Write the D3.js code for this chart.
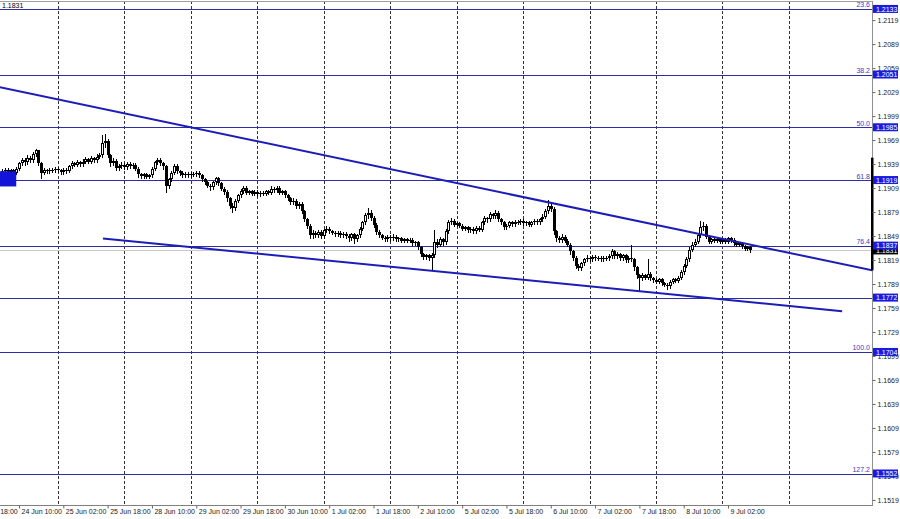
<!DOCTYPE html>
<html><head><meta charset="utf-8">
<script src="https://cdn.jsdelivr.net/npm/d3@7"></script>
<style>
body{margin:0;background:#fff}
svg{display:block}
text{font-family:"Liberation Sans",Arial,sans-serif}
</style>
</head><body>
<svg id="chart" width="900" height="519"></svg>
<script>
// ---------- DATA ----------
const firstOpen = 1.1928;
const closes = [
1.1930,1.1932,1.1929,1.1931,1.1928,1.1933,1.1940,1.1944,1.1941,1.1947,
1.1944,1.1952,1.1956,1.1940,1.1928,1.1931,1.1930,1.1932,1.1931,1.1933,
1.1931,1.1929,1.1932,1.1930,1.1936,1.1940,1.1938,1.1941,1.1939,1.1942,
1.1945,1.1942,1.1946,1.1944,1.1948,1.1950,1.1965,1.1968,1.1950,1.1940,
1.1943,1.1934,1.1936,1.1938,1.1935,1.1939,1.1936,1.1938,1.1933,1.1926,
1.1924,1.1926,1.1923,1.1925,1.1933,1.1941,1.1944,1.1940,1.1936,1.1912,
1.1920,1.1928,1.1937,1.1930,1.1928,1.1925,1.1927,1.1925,1.1927,1.1926,
1.1928,1.1925,1.1920,1.1916,1.1912,1.1910,1.1916,1.1921,1.1915,1.1908,
1.1904,1.1896,1.1887,1.1884,1.1893,1.1900,1.1905,1.1909,1.1903,1.1905,
1.1902,1.1904,1.1901,1.1903,1.1902,1.1905,1.1903,1.1908,1.1906,1.1909,
1.1903,1.1905,1.1900,1.1896,1.1891,1.1893,1.1886,1.1889,1.1880,1.1870,
1.1862,1.1850,1.1853,1.1850,1.1854,1.1849,1.1856,1.1858,1.1855,1.1853,
1.1851,1.1853,1.1850,1.1852,1.1849,1.1846,1.1851,1.1845,1.1850,1.1858,
1.1866,1.1875,1.1878,1.1872,1.1863,1.1854,1.1850,1.1847,1.1845,1.1848,
1.1846,1.1848,1.1845,1.1846,1.1843,1.1845,1.1843,1.1844,1.1840,1.1841,
1.1835,1.1826,1.1823,1.1825,1.1822,1.1825,1.1842,1.1838,1.1845,1.1841,
1.1855,1.1866,1.1868,1.1863,1.1865,1.1862,1.1858,1.1860,1.1856,1.1858,
1.1855,1.1859,1.1857,1.1866,1.1871,1.1870,1.1876,1.1874,1.1878,1.1870,
1.1866,1.1860,1.1862,1.1866,1.1864,1.1867,1.1866,1.1868,1.1865,1.1866,
1.1863,1.1866,1.1868,1.1866,1.1870,1.1873,1.1880,1.1887,1.1883,1.1855,
1.1846,1.1844,1.1848,1.1843,1.1838,1.1830,1.1822,1.1812,1.1809,1.1815,
1.1820,1.1822,1.1820,1.1823,1.1821,1.1822,1.1820,1.1822,1.1821,1.1824,
1.1830,1.1824,1.1826,1.1821,1.1825,1.1819,1.1822,1.1820,1.1810,1.1800,
1.1796,1.1800,1.1797,1.1802,1.1796,1.1794,1.1792,1.1795,1.1790,1.1788,
1.1786,1.1792,1.1795,1.1793,1.1797,1.1804,1.1812,1.1820,1.1832,1.1838,
1.1842,1.1850,1.1860,1.1862,1.1848,1.1842,1.1845,1.1843,1.1845,1.1842,
1.1844,1.1842,1.1846,1.1844,1.1840,1.1838,1.1840,1.1836,1.1833,1.1835,
1.1831];
const highs = [
1.1933,1.1934,1.1934,1.1933,1.1933,1.1935,1.1942,1.1947,1.1946,1.1950,
1.1949,1.1954,1.1958,1.1957,1.1942,1.1934,1.1933,1.1934,1.1934,1.1935,
1.1935,1.1933,1.1934,1.1934,1.1938,1.1943,1.1942,1.1944,1.1943,1.1945,
1.1948,1.1947,1.1949,1.1948,1.1951,1.1953,1.1975,1.1976,1.1970,1.1952,
1.1946,1.1945,1.1939,1.1941,1.1940,1.1941,1.1941,1.1940,1.1940,1.1935,
1.1928,1.1928,1.1928,1.1927,1.1935,1.1943,1.1947,1.1946,1.1942,1.1938,
1.1922,1.1930,1.1939,1.1939,1.1932,1.1930,1.1929,1.1929,1.1929,1.1929,
1.1930,1.1930,1.1927,1.1922,1.1918,1.1914,1.1918,1.1923,1.1923,1.1917,
1.1910,1.1906,1.1898,1.1890,1.1895,1.1902,1.1908,1.1912,1.1911,1.1907,
1.1907,1.1906,1.1906,1.1905,1.1905,1.1907,1.1907,1.1912,1.1910,1.1911,
1.1911,1.1907,1.1907,1.1902,1.1898,1.1896,1.1895,1.1891,1.1891,1.1882,
1.1872,1.1864,1.1856,1.1855,1.1856,1.1856,1.1858,1.1861,1.1860,1.1857,
1.1855,1.1855,1.1855,1.1854,1.1854,1.1851,1.1853,1.1853,1.1852,1.1860,
1.1868,1.1878,1.1884,1.1881,1.1874,1.1865,1.1856,1.1852,1.1849,1.1850,
1.1850,1.1852,1.1850,1.1848,1.1848,1.1847,1.1847,1.1846,1.1846,1.1843,
1.1843,1.1837,1.1828,1.1827,1.1827,1.1828,1.1857,1.1845,1.1848,1.1847,
1.1858,1.1869,1.1871,1.1870,1.1867,1.1867,1.1864,1.1862,1.1862,1.1860,
1.1860,1.1861,1.1861,1.1868,1.1874,1.1873,1.1879,1.1878,1.1882,1.1880,
1.1872,1.1868,1.1864,1.1868,1.1868,1.1869,1.1869,1.1870,1.1870,1.1868,
1.1868,1.1868,1.1870,1.1870,1.1872,1.1876,1.1883,1.1894,1.1890,1.1885,
1.1857,1.1849,1.1851,1.1850,1.1845,1.1840,1.1832,1.1824,1.1814,1.1817,
1.1822,1.1825,1.1824,1.1825,1.1825,1.1824,1.1824,1.1824,1.1824,1.1826,
1.1833,1.1832,1.1829,1.1828,1.1827,1.1827,1.1824,1.1838,1.1822,1.1812,
1.1802,1.1803,1.1802,1.1820,1.1804,1.1798,1.1796,1.1797,1.1797,1.1792,
1.1790,1.1794,1.1797,1.1797,1.1799,1.1806,1.1814,1.1823,1.1835,1.1841,
1.1845,1.1853,1.1868,1.1866,1.1864,1.1850,1.1847,1.1847,1.1847,1.1847,
1.1846,1.1846,1.1848,1.1848,1.1846,1.1842,1.1842,1.1842,1.1838,1.1837,
1.1837];
const lows = [
1.1926,1.1928,1.1927,1.1927,1.1926,1.1926,1.1931,1.1938,1.1938,1.1939,
1.1941,1.1942,1.1949,1.1938,1.1922,1.1926,1.1928,1.1928,1.1929,1.1929,
1.1929,1.1927,1.1927,1.1928,1.1929,1.1934,1.1936,1.1936,1.1937,1.1937,
1.1940,1.1940,1.1940,1.1941,1.1942,1.1946,1.1948,1.1960,1.1948,1.1937,
1.1938,1.1932,1.1931,1.1934,1.1933,1.1933,1.1934,1.1934,1.1931,1.1923,
1.1921,1.1922,1.1921,1.1921,1.1923,1.1931,1.1939,1.1938,1.1933,1.1904,
1.1909,1.1918,1.1926,1.1928,1.1925,1.1923,1.1923,1.1923,1.1923,1.1924,
1.1924,1.1923,1.1918,1.1914,1.1910,1.1907,1.1908,1.1914,1.1913,1.1906,
1.1901,1.1893,1.1884,1.1879,1.1882,1.1891,1.1898,1.1903,1.1901,1.1901,
1.1900,1.1900,1.1899,1.1899,1.1900,1.1900,1.1901,1.1901,1.1904,1.1904,
1.1901,1.1901,1.1898,1.1894,1.1889,1.1889,1.1884,1.1884,1.1878,1.1868,
1.1859,1.1846,1.1847,1.1848,1.1848,1.1847,1.1847,1.1854,1.1853,1.1851,
1.1849,1.1849,1.1848,1.1848,1.1847,1.1843,1.1844,1.1840,1.1843,1.1848,
1.1856,1.1864,1.1872,1.1869,1.1860,1.1851,1.1848,1.1845,1.1843,1.1843,
1.1844,1.1844,1.1843,1.1843,1.1841,1.1841,1.1841,1.1841,1.1838,1.1838,
1.1833,1.1824,1.1820,1.1820,1.1819,1.1807,1.1823,1.1835,1.1836,1.1838,
1.1839,1.1853,1.1864,1.1861,1.1861,1.1860,1.1856,1.1856,1.1854,1.1854,
1.1853,1.1853,1.1855,1.1855,1.1864,1.1867,1.1868,1.1871,1.1872,1.1868,
1.1864,1.1858,1.1858,1.1860,1.1862,1.1862,1.1864,1.1864,1.1863,1.1863,
1.1861,1.1861,1.1864,1.1864,1.1864,1.1868,1.1871,1.1878,1.1880,1.1852,
1.1843,1.1841,1.1842,1.1841,1.1836,1.1827,1.1819,1.1809,1.1806,1.1807,
1.1813,1.1818,1.1818,1.1818,1.1819,1.1819,1.1818,1.1818,1.1819,1.1819,
1.1822,1.1822,1.1822,1.1819,1.1819,1.1817,1.1817,1.1818,1.1807,1.1797,
1.1782,1.1794,1.1795,1.1795,1.1794,1.1792,1.1790,1.1790,1.1788,1.1786,
1.1783,1.1784,1.1790,1.1791,1.1791,1.1795,1.1802,1.1810,1.1818,1.1830,
1.1836,1.1840,1.1848,1.1856,1.1846,1.1840,1.1840,1.1841,1.1841,1.1840,
1.1840,1.1840,1.1840,1.1842,1.1838,1.1836,1.1836,1.1834,1.1831,1.1831,
1.1829];

// time axis: bar index of each label and its text
const timeTickIndex = [-10,6,22,38,54,70,86,102,118,134,150,166,182,198,214,230,246,262];
const timeTickLabels = ["23 Jun 18:00","24 Jun 10:00","25 Jun 02:00","25 Jun 18:00","28 Jun 10:00",
  "29 Jun 02:00","29 Jun 18:00","30 Jun 10:00","1 Jul 02:00","1 Jul 18:00","2 Jul 10:00",
  "5 Jul 02:00","5 Jul 18:00","6 Jul 10:00","7 Jul 02:00","7 Jul 18:00","8 Jul 10:00","9 Jul 02:00"];
// day separators (bar index of 00:00)
const daySeparators = [20,44,68,92,116,140,164,188,212,236,260,284];
// price axis ticks
const priceTicks = [1.2119,1.2089,1.2059,1.2029,1.1999,1.1969,1.1939,1.1909,1.1879,1.1849,
  1.1819,1.1789,1.1759,1.1729,1.1699,1.1669,1.1639,1.1609,1.1579,1.1549,1.1519];
// Fibonacci levels
const fibLevels = ["23.6","38.2","50.0","61.8","76.4","","100.0","127.2"];
const fibPrices = [1.2133,1.2051,1.1985,1.1919,1.1837,1.1772,1.1704,1.1552];
// channel trend lines: [startIndex, startPrice, endIndex, endPrice]
const trendUpper = [-0.9, 1.2035, 314.3, 1.1806];
const trendLower = [36.3, 1.1846, 303.2, 1.1755];
const bidPrice = 1.1831;
const leftBox = [-1, 1.1930, 5, 1.1911];
const rangeBar = [1.1947, 1.1806];

// ---------- DRAW ----------
const W = 900, H = 519, RIGHT = 872, BOTTOM = 505;
const svg = d3.select("#chart");
svg.append("rect").attr("width", W).attr("height", H).attr("fill", "#fff");

const x = d3.scaleLinear().domain([0, 256]).range([2.4, 711.4]);
const y = d3.scaleLinear().domain([1.2051, 1.1552]).range([74.5, 473.5]);

svg.append("clipPath").attr("id", "plot")
  .append("rect").attr("x", 0).attr("y", 1).attr("width", RIGHT).attr("height", BOTTOM - 1);
const plot = svg.append("g").attr("clip-path", "url(#plot)");

// day separators (dashed)
plot.selectAll("line.sep").data(daySeparators).join("line")
  .attr("x1", d => Math.round(x(d)) + 0.5).attr("x2", d => Math.round(x(d)) + 0.5)
  .attr("y1", 1).attr("y2", BOTTOM)
  .attr("stroke", "#333").attr("stroke-width", 1).attr("stroke-dasharray", "3,2");

// fib horizontal lines
plot.selectAll("line.fib").data(fibPrices).join("line")
  .attr("x1", 0).attr("x2", RIGHT)
  .attr("y1", d => Math.round(y(d)) + 0.5).attr("y2", d => Math.round(y(d)) + 0.5)
  .attr("stroke", "#2e2ea6").attr("stroke-width", 1);

// bid line
plot.append("line").attr("x1", 0).attr("x2", RIGHT)
  .attr("y1", Math.round(y(bidPrice)) + 0.5).attr("y2", Math.round(y(bidPrice)) + 0.5)
  .attr("stroke", "#c8c8c8");

// candles
const bars = closes.map((c, i) => ({
  i, o: i ? closes[i - 1] : firstOpen, h: highs[i], l: lows[i], c
}));
const cg = plot.append("g").attr("shape-rendering", "crispEdges");
bars.forEach(b => {
  const cx = Math.round(x(b.i));
  cg.append("line").attr("x1", cx + 0.5).attr("x2", cx + 0.5)
    .attr("y1", Math.round(y(b.h))).attr("y2", Math.round(y(b.l)) + 1)
    .attr("stroke", "#000");
  const top = Math.round(y(Math.max(b.o, b.c)));
  const bot = Math.round(y(Math.min(b.o, b.c)));
  if (b.c >= b.o) {
    const hgt = Math.max(bot - top, 1);
    if (hgt <= 1) {
      cg.append("rect").attr("x", cx - 1).attr("y", top).attr("width", 3).attr("height", 1).attr("fill", "#000");
    } else {
      cg.append("rect").attr("x", cx - 0.5).attr("y", top + 0.5).attr("width", 2).attr("height", hgt - 1)
        .attr("fill", "#fff").attr("stroke", "#000");
    }
  } else {
    cg.append("rect").attr("x", cx - 1).attr("y", top).attr("width", 3).attr("height", Math.max(bot - top, 1))
      .attr("fill", "#000");
  }
});

// channel lines
[trendUpper, trendLower].forEach(t => {
  plot.append("line")
    .attr("x1", x(t[0])).attr("y1", y(t[1])).attr("x2", x(t[2])).attr("y2", y(t[3]))
    .attr("stroke", "#1c1cb8").attr("stroke-width", 2);
});

// left blue box
plot.append("rect").attr("x", x(leftBox[0])).attr("y", y(leftBox[1]))
  .attr("width", x(leftBox[2]) - x(leftBox[0])).attr("height", y(leftBox[3]) - y(leftBox[1]))
  .attr("fill", "#1414d8");

// fib level percentage labels
svg.selectAll("text.pct").data(fibLevels.map((t, k) => ({t, p: fibPrices[k]})).filter(d => d.t))
  .join("text")
  .attr("x", RIGHT - 2).attr("y", d => y(d.p) - 1.5)
  .attr("text-anchor", "end").attr("font-size", "7px").attr("fill", "#3a3ac0")
  .text(d => d.t);

// top-left price text
svg.append("text").attr("x", 2).attr("y", 8).attr("font-size", "7px").attr("fill", "#000").text("1.1831");

// frame
svg.append("line").attr("x1", 0).attr("x2", RIGHT).attr("y1", 1.5).attr("y2", 1.5).attr("stroke", "#a0a0a0");
svg.append("line").attr("x1", RIGHT + 0.5).attr("x2", RIGHT + 0.5).attr("y1", 1).attr("y2", BOTTOM).attr("stroke", "#909090");
svg.append("line").attr("x1", 0).attr("x2", RIGHT + 1).attr("y1", BOTTOM + 0.5).attr("y2", BOTTOM + 0.5).attr("stroke", "#808080");

// range bar on the price axis
svg.append("rect").attr("x", RIGHT - 1).attr("y", y(rangeBar[0])).attr("width", 2.5)
  .attr("height", y(rangeBar[1]) - y(rangeBar[0])).attr("fill", "#000");

// right price axis
const yAxis = d3.axisRight(y).tickValues(priceTicks).tickFormat(d3.format(".4f")).tickSize(3).tickPadding(2);
const ya = svg.append("g").attr("transform", `translate(${RIGHT + 0.5},0)`).call(yAxis);
ya.select(".domain").remove();
ya.selectAll("line").attr("stroke", "#666");
ya.selectAll("text").attr("font-size", "7px").attr("fill", "#222")
  .attr("font-family", '"Liberation Sans",Arial,sans-serif');

// bottom time axis
const xAxis = d3.axisBottom(x).tickValues(timeTickIndex).tickFormat((d, k) => timeTickLabels[k]).tickSize(3).tickPadding(1);
const xa = svg.append("g").attr("transform", `translate(0,${BOTTOM + 0.5})`).call(xAxis);
xa.select(".domain").remove();
xa.selectAll("line").attr("stroke", "#666");
xa.selectAll("text").attr("font-size", "7px").attr("fill", "#222").attr("text-anchor", "start").attr("dx", "2px")
  .attr("font-family", '"Liberation Sans",Arial,sans-serif');

// bid price box (under the fib boxes)
function priceBox(p, fill) {
  const g = svg.append("g");
  g.append("rect").attr("x", RIGHT + 1).attr("y", y(p) - 4).attr("width", 25).attr("height", 8).attr("fill", fill);
  g.append("text").attr("x", RIGHT + 4).attr("y", y(p) + 2.6).attr("font-size", "7px").attr("fill", "#fff")
    .text(d3.format(".4f")(p));
}
priceBox(bidPrice, "#000");
fibPrices.forEach(p => priceBox(p, "#1a1ae0"));
</script>
</body></html>
